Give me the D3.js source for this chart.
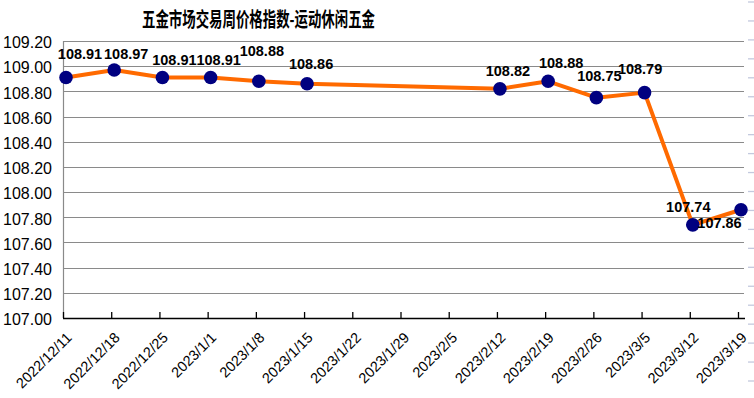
<!DOCTYPE html>
<html><head><meta charset="utf-8">
<script src="https://cdn.jsdelivr.net/npm/d3@7"></script>
<style>html,body{margin:0;padding:0;background:#fff;}svg{display:block;}</style>
</head><body>
<svg id="c" width="754" height="398"></svg>
<script>
const title = "五金市场交易周价格指数-运动休闲五金";
const categories = ["2022/12/11","2022/12/18","2022/12/25","2023/1/1","2023/1/8","2023/1/15","2023/1/22","2023/1/29","2023/2/5","2023/2/12","2023/2/19","2023/2/26","2023/3/5","2023/3/12","2023/3/19"];
const values = [108.91,108.97,108.91,108.91,108.88,108.86,null,null,null,108.82,108.88,108.75,108.79,107.74,107.86];
const yTicks = [107.00,107.20,107.40,107.60,107.80,108.00,108.20,108.40,108.60,108.80,109.00,109.20];
// label placement offsets (style, not data)
const labelDx = [14,12,12,8,3,4,0,0,0,8,13,3,-4.5,-4.5,-21.5];
const labelDy = [-19,-11,-13,-13,-25,-15,0,0,0,-13,-13,-17,-19,-12.6,18];

const svg = d3.select("#c");
const pLeft = 63, pRight = 744, pTop = 41, pBottom = 318;
const y = d3.scaleLinear().domain([107, 109.2]).range([pBottom, pTop]);
const x = d3.scalePoint().domain(categories).range([66, 741]);

// decorative right-edge dashes
svg.append("g").selectAll("line").data(d3.range(21)).join("line")
  .attr("x1", 748).attr("x2", 754)
  .attr("y1", d => 2 + d * 18.95).attr("y2", d => 2 + d * 18.95)
  .attr("stroke", "#c3c9de").attr("stroke-width", 1.3);

// gridlines
svg.append("g").selectAll("line").data(yTicks.filter(v => v > 107)).join("line")
  .attr("x1", pLeft).attr("x2", pRight)
  .attr("y1", d => Math.round(y(d)) + 0.5).attr("y2", d => Math.round(y(d)) + 0.5)
  .attr("stroke", "#8a8a8a").attr("stroke-width", 1.2);

// left axis line
svg.append("line").attr("x1", pLeft + 0.5).attr("x2", pLeft + 0.5).attr("y1", pTop).attr("y2", pBottom)
  .attr("stroke", "#8a8a8a").attr("stroke-width", 1.2);

// y labels
const yAxis = d3.axisLeft(y).tickValues(yTicks).tickFormat(d3.format(".2f")).tickSize(0).tickPadding(0);
const gy = svg.append("g").attr("transform", `translate(52,0)`).call(yAxis);
gy.select(".domain").remove();
gy.selectAll("text").attr("font-family", "Liberation Sans, Arial, sans-serif").attr("font-size", "16px").attr("fill", "#000").attr("dy", "0.42em");

// x axis
svg.append("line").attr("x1", pLeft).attr("x2", 745).attr("y1", pBottom + 0.5).attr("y2", pBottom + 0.5)
  .attr("stroke", "#000").attr("stroke-width", 1.5);
svg.append("g").selectAll("line").data(categories).join("line")
  .attr("x1", d => x(d) - 2.5).attr("x2", d => x(d) - 2.5)
  .attr("y1", pBottom).attr("y2", pBottom - 6)
  .attr("stroke", "#000").attr("stroke-width", 1.3);
svg.append("g").selectAll("text").data(categories).join("text")
  .attr("transform", d => `translate(${x(d) + 3},${pBottom + 17}) rotate(-45)`)
  .attr("text-anchor", "end").attr("dy", "0.35em")
  .attr("font-family", "Liberation Sans, Arial, sans-serif").attr("font-size", "14.5px").attr("fill", "#000")
  .text(d => d);

// line
const pts = categories.map((c, i) => ({c, v: values[i], i})).filter(d => d.v !== null);
svg.append("path").datum(pts)
  .attr("d", d3.line().x(d => x(d.c)).y(d => y(d.v)))
  .attr("fill", "none").attr("stroke", "#ff6a00").attr("stroke-width", 4).attr("stroke-linejoin", "round");

// markers
svg.append("g").selectAll("circle").data(pts).join("circle")
  .attr("cx", d => x(d.c)).attr("cy", d => y(d.v)).attr("r", 6.8).attr("fill", "#000080");

// data labels
svg.append("g").selectAll("text").data(pts).join("text")
  .attr("x", d => x(d.c) + labelDx[d.i]).attr("y", d => y(d.v) + labelDy[d.i])
  .attr("text-anchor", "middle")
  .attr("font-family", "Liberation Sans, Arial, sans-serif").attr("font-size", "14.5px").attr("font-weight", "bold").attr("fill", "#000")
  .text(d => d3.format(".2f")(d.v));

// title
svg.append("text").attr("x", 258.5).attr("y", 26.5).attr("text-anchor", "middle")
  .attr("textLength", 233).attr("lengthAdjust", "spacingAndGlyphs")
  .attr("font-family", "Noto Sans CJK SC, sans-serif").attr("font-size", "20px").attr("font-weight", "bold").attr("fill", "#000")
  .text(title);
</script>
</body></html>
